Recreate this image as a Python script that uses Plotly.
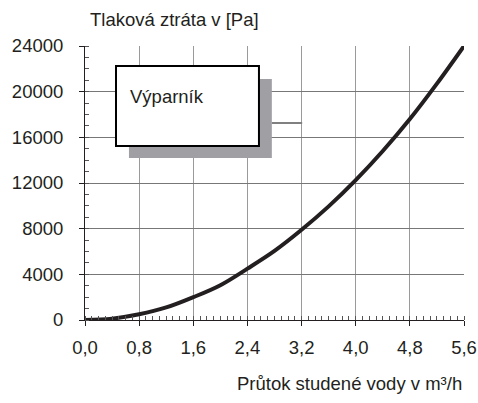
import plotly.graph_objects as go

flow = [0.0, 0.4, 0.8, 1.2, 1.6, 2.0, 2.4, 2.8, 3.2, 3.6, 4.0, 4.4, 4.8, 5.2, 5.6]
pressure = [0, 120, 500, 1100, 2000, 3050, 4500, 6050, 7900, 9950, 12250, 14800, 17600, 20700, 24000]

x_ticks = [0.0, 0.8, 1.6, 2.4, 3.2, 4.0, 4.8, 5.6]
x_ticktext = ["0,0", "0,8", "1,6", "2,4", "3,2", "4,0", "4,8", "5,6"]
y_ticks = [0, 4000, 8000, 12000, 16000, 20000, 24000]
y_ticktext = ["0", "4000", "8000", "12000", "16000", "20000", "24000"]

y_title = "Tlaková ztráta v [Pa]"
x_title = "Průtok studené vody v m³/h"
legend_text = "Výparník"

FONT = "Liberation Sans, Arial, sans-serif"
INK = "#231f20"
GRID = "#8c8c8c"
FS = 18.5

fig = go.Figure()
fig.add_trace(go.Scatter(x=flow, y=pressure, mode="lines",
                         line=dict(color=INK, width=4, shape="spline"),
                         showlegend=False, hoverinfo="skip"))

fig.update_layout(
    width=478, height=403,
    margin=dict(l=85, r=14, t=46, b=83, autoexpand=False),
    paper_bgcolor="white", plot_bgcolor="white",
    font=dict(family=FONT, size=FS, color=INK),
    showlegend=False,
)
fig.update_xaxes(
    range=[0, 5.6], tickvals=x_ticks, ticktext=x_ticktext,
    showgrid=True, gridcolor="#9a9a9a", gridwidth=1.2,
    showline=True, linecolor=INK, linewidth=1,
    ticks="outside", ticklen=5, tickcolor=INK,
    ticklabelstandoff=6, automargin=False,
    minor=dict(dtick=0.1, ticks="inside", ticklen=4, tickcolor="#555555", showgrid=False),
    zeroline=False, fixedrange=True,
)
fig.update_yaxes(
    range=[0, 24000], tickvals=y_ticks, ticktext=y_ticktext,
    showgrid=True, gridcolor="#777777", gridwidth=1,
    showline=True, linecolor=INK, linewidth=1,
    ticks="outside", ticklen=5, tickcolor=INK,
    ticklabelstandoff=12, automargin=False,
    minor=dict(dtick=1000, ticks="inside", ticklen=4, tickcolor="#555555", showgrid=False),
    zeroline=False, fixedrange=True,
)

# legend-like box with shadow and leader line
fig.add_shape(type="rect", xref="paper", yref="paper",
              x0=0.116, x1=0.493, y0=0.591, y1=0.880,
              fillcolor="#a0a0a4", line=dict(width=0))
fig.add_shape(type="line", xref="paper", yref="paper",
              x0=0.493, x1=0.573, y0=0.719, y1=0.719,
              line=dict(color="#808080", width=2))
fig.add_shape(type="rect", xref="paper", yref="paper",
              x0=0.0818, x1=0.459, y0=0.635, y1=0.927,
              fillcolor="white", line=dict(color="black", width=2))
fig.add_annotation(text=legend_text, xref="paper", yref="paper",
                   x=0.113, y=0.814, xanchor="left", yanchor="middle",
                   showarrow=False, font=dict(size=FS, color=INK))

fig.add_annotation(text=y_title, xref="paper", yref="paper",
                   x=0.008, y=1.095, xanchor="left", yanchor="middle",
                   showarrow=False, font=dict(size=FS, color=INK))
fig.add_annotation(text=x_title, xref="paper", yref="paper",
                   x=1.0, y=-0.23, xanchor="right", yanchor="middle",
                   showarrow=False, font=dict(size=FS, color=INK))

fig.write_html(
    "out.html",
    config={"displayModeBar": False, "staticPlot": True},
    post_script="document.body.style.margin='0';document.body.style.overflow='hidden';",
)
